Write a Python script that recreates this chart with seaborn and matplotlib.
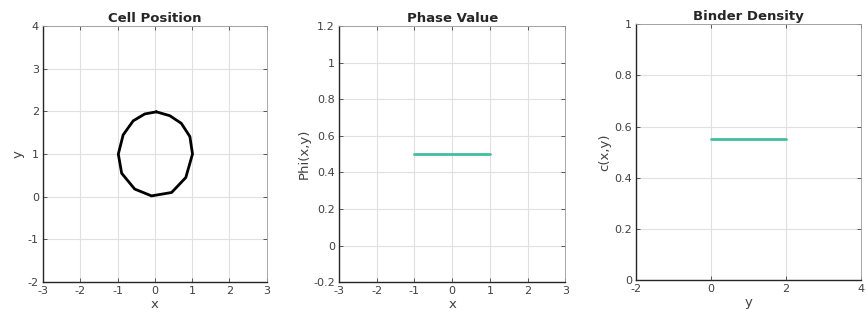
import numpy as np
import pandas as pd
import matplotlib
matplotlib.use("Agg")
import matplotlib.pyplot as plt
import seaborn as sns
from matplotlib.ticker import FormatStrFormatter

sns.set_style("whitegrid")
plt.rcParams["font.family"] = ["DejaVu Sans"]
plt.rcParams["axes.unicode_minus"] = False

# cell outline vertices (closed polygon)
cell_x = [0.04, -0.27, -0.58, -0.85, -0.98, -0.89, -0.54, -0.09, 0.45, 0.83, 1.01, 0.94, 0.71, 0.40, 0.04]
cell_y = [1.99, 1.94, 1.78, 1.45, 1.00, 0.55, 0.18, 0.02, 0.10, 0.45, 1.00, 1.41, 1.72, 1.90, 1.99]

# phase value along x
phi_x = [-1, 1]
phi_val = [0.5, 0.5]

# binder density along y
c_y = [0, 2]
c_val = [0.55, 0.55]

teal = "#3fbf9f"
fig = plt.figure(figsize=(8.67, 3.22), dpi=100)
ax1 = fig.add_axes([0.0496, 0.124, 0.258, 0.795])
ax2 = fig.add_axes([0.391, 0.124, 0.261, 0.795])
ax3 = fig.add_axes([0.7336, 0.130, 0.2595, 0.795])

sns.lineplot(x=cell_x, y=cell_y, sort=False, estimator=None, color="black", linewidth=2, ax=ax1)
ax1.set_xlim(-3, 3)
ax1.set_ylim(-2, 4)
ax1.set_xticks(range(-3, 4))
ax1.set_yticks(range(-2, 5))
ax1.set_title("Cell Position")
ax1.set_xlabel("x")
ax1.set_ylabel("y")

sns.lineplot(x=phi_x, y=phi_val, color=teal, linewidth=2, ax=ax2)
ax2.set_xlim(-3, 3)
ax2.set_ylim(-0.2, 1.2)
ax2.set_xticks(range(-3, 4))
ax2.set_yticks(np.arange(-0.2, 1.21, 0.2))
ax2.set_title("Phase Value")
ax2.set_xlabel("x")
ax2.set_ylabel("Phi(x,y)")

sns.lineplot(x=c_y, y=c_val, color=teal, linewidth=2, ax=ax3)
ax3.set_xlim(-2, 4)
ax3.set_ylim(0, 1)
ax3.set_xticks([-2, 0, 2, 4])
ax3.set_yticks(np.arange(0, 1.01, 0.2))
ax3.set_title("Binder Density")
ax3.set_xlabel("y")
ax3.set_ylabel("c(x,y)")

for ax in (ax1, ax2, ax3):
    ax.xaxis.set_major_formatter(FormatStrFormatter("%g"))
    ax.yaxis.set_major_formatter(FormatStrFormatter("%g"))
    ax.set_facecolor("white")
    ax.grid(True, color="#e0e0e0", linewidth=0.8)
    ax.tick_params(direction="in", length=3, width=0.6, labelsize=8, colors="#404040",
                   top=True, right=True, bottom=True, left=True, pad=3)
    ax.set_title(ax.get_title(), fontsize=9.5, fontweight="bold", pad=3)
    ax.xaxis.label.set_size(9.5)
    ax.yaxis.label.set_size(9.5)
    ax.xaxis.label.set_color("#404040")
    ax.yaxis.label.set_color("#404040")
    ax.xaxis.labelpad = 1
    ax.yaxis.labelpad = 2
    for side in ("left", "bottom"):
        ax.spines[side].set_color("#262626")
        ax.spines[side].set_linewidth(1.0)
    for side in ("top", "right"):
        ax.spines[side].set_color("#9a9a9a")
        ax.spines[side].set_linewidth(0.6)
        ax.spines[side].set_visible(True)

fig.savefig("out.png", dpi=100)
